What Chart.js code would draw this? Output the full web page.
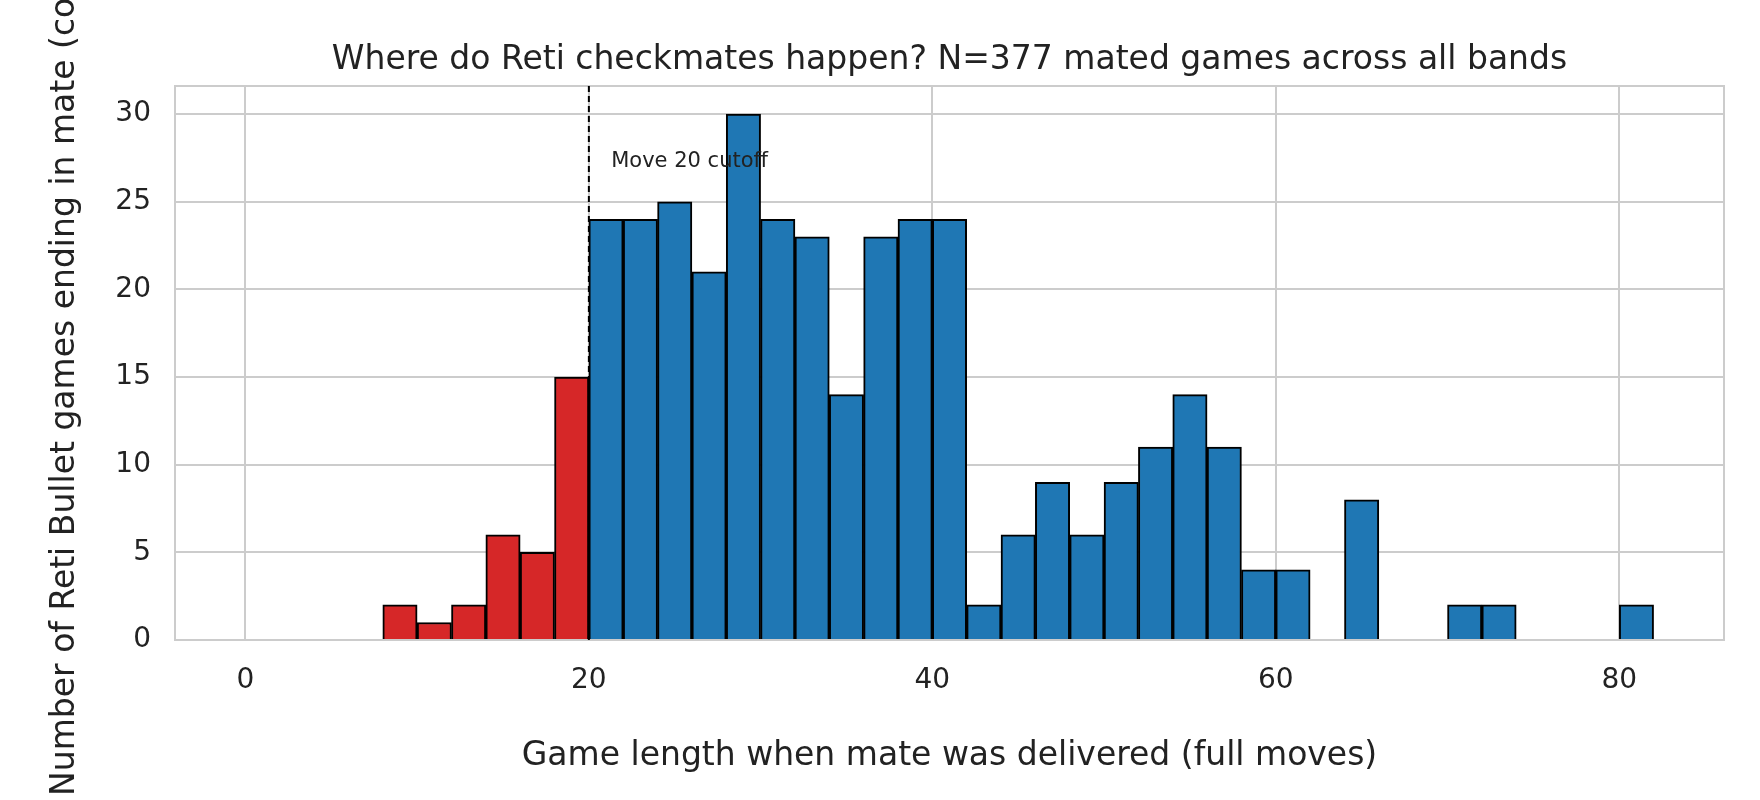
<!DOCTYPE html>
<html><head><meta charset="utf-8">
<script src="https://cdn.jsdelivr.net/npm/chart.js@4/dist/chart.umd.min.js"></script>
<style>body{margin:0;background:#fff}canvas{display:block}</style>
</head><body>
<canvas id="c" width="1760" height="800"></canvas>
<script>
const binStarts = [8,10,12,14,16,18,20,22,24,26,28,30,32,34,36,38,40,42,44,46,48,50,52,54,56,58,60,62,64,66,68,70,72,74,76,78,80];
const counts    = [2,1,2,6,5,15,24,24,25,21,30,24,23,14,23,24,24,2,6,9,6,9,11,14,11,4,4,0,8,0,0,2,2,0,0,0,2];
const xTicks = [0,20,40,60,80];
const yTicks = [0,5,10,15,20,25,30];
const cutoff = 20;
const titleText = 'Where do Reti checkmates happen? N=377 mated games across all bands';
const xLabel = 'Game length when mate was delivered (full moves)';
const yLabel = 'Number of Reti Bullet games ending in mate (count)';
const FONT = '"DejaVu Sans", sans-serif';

const extras = {
  id:'extras',
  afterDraw(ch){
    const {ctx, chartArea:a, scales:{x,y}} = ch;
    ctx.save();
    ctx.strokeStyle='#cccccc'; ctx.lineWidth=2;
    ctx.strokeRect(a.left,a.top,a.right-a.left,a.bottom-a.top);
    const px = x.getPixelForValue(cutoff);
    ctx.strokeStyle='#000'; ctx.lineWidth=2; ctx.setLineDash([6,4]);
    ctx.beginPath(); ctx.moveTo(px,a.top); ctx.lineTo(px,a.bottom); ctx.stroke();
    ctx.setLineDash([]);
    ctx.fillStyle='#222'; ctx.font='21px '+FONT; ctx.textBaseline='middle';
    ctx.fillText('Move 20 cutoff', x.getPixelForValue(21.3), y.getPixelForValue(27.3));
    ctx.font='33px '+FONT; ctx.textAlign='center';
    ctx.fillText(titleText,(a.left+a.right)/2,60);
    ctx.restore();
  }
};

new Chart(document.getElementById('c'),{
  type:'bar',
  data:{datasets:[{
    data: binStarts.map((s,i)=>({x:s+1,y:counts[i]})),
    backgroundColor: binStarts.map(s=> s<cutoff ? '#d62728' : '#1f77b4'),
    borderColor:'#000', borderWidth:2,
    barPercentage:1, categoryPercentage:1, grouped:false
  }]},
  options:{
    responsive:false, animation:false,
    layout:{padding:{top:86,right:36,left:42,bottom:20}},
    plugins:{legend:{display:false},tooltip:{enabled:false}},
    scales:{
      x:{type:'linear',min:-4.1,max:86.1,offset:false,
        afterBuildTicks:s=>{s.ticks=xTicks.map(v=>({value:v}));},
        afterFit:s=>{s.height=140;},
        grid:{color:'#cccccc',lineWidth:2,drawTicks:false,offset:false},border:{display:false},
        ticks:{color:'#222',font:{size:28,family:FONT},padding:24},
        title:{display:true,text:xLabel,color:'#222',font:{size:33,family:FONT},padding:{top:4}}},
      y:{min:0,max:31.6,
        afterBuildTicks:s=>{s.ticks=yTicks.map(v=>({value:v}));},
        afterFit:s=>{s.width=133;},
        grid:{color:'#cccccc',lineWidth:2,drawTicks:false},border:{display:false},
        ticks:{color:'#222',font:{size:28,family:FONT},padding:24},
        title:{display:true,text:yLabel,color:'#222',font:{size:33,family:FONT},padding:{bottom:4}}}
    }
  },
  plugins:[extras]
});
</script>
</body></html>
